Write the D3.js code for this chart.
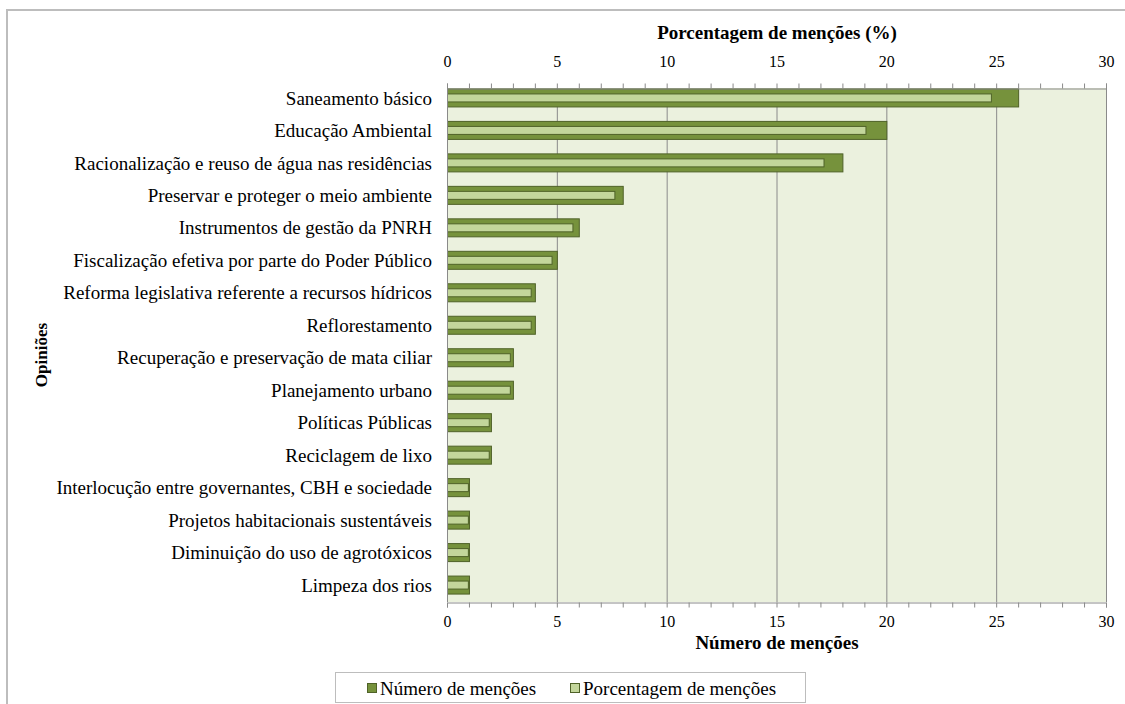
<!DOCTYPE html>
<html><head><meta charset="utf-8">
<script src="https://cdn.jsdelivr.net/npm/d3@7"></script>
</head>
<body style="margin:0">
<svg id="c" width="1125" height="704"></svg>
<script>
const categories = [
  "Saneamento básico",
  "Educação Ambiental",
  "Racionalização e reuso de água nas residências",
  "Preservar e proteger o meio ambiente",
  "Instrumentos de gestão da PNRH",
  "Fiscalização efetiva por parte do Poder Público",
  "Reforma legislativa referente a recursos hídricos",
  "Reflorestamento",
  "Recuperação e preservação de mata ciliar",
  "Planejamento urbano",
  "Políticas Públicas",
  "Reciclagem de lixo",
  "Interlocução entre governantes, CBH e sociedade",
  "Projetos habitacionais sustentáveis",
  "Diminuição do uso de agrotóxicos",
  "Limpeza dos rios"
];
const mentions = [26, 20, 18, 8, 6, 5, 4, 4, 3, 3, 2, 2, 1, 1, 1, 1];
const percentages = [24.76, 19.05, 17.14, 7.62, 5.71, 4.76, 3.81, 3.81, 2.86, 2.86, 1.90, 1.90, 0.95, 0.95, 0.95, 0.95];
const majorTicks = [0, 5, 10, 15, 20, 25, 30];
const minorTicks = d3.range(0, 31, 1);
const seriesNames = ["Número de menções", "Porcentagem de menções"];
const topTitle = "Porcentagem de menções (%)";
const bottomTitle = "Número de menções";
const yTitle = "Opiniões";

const FONT = "'Liberation Serif'";
const svg = d3.select("#c");
const L = 447, R = 1106, T = 88, B = 602;
const darkFill = "#76923c", darkStroke = "#4f6228", lightFill = "#c3d69b", bg = "#ebf1de", gridC = "#8a8a8a";

function serif(sel, size, bold) {
  sel.attr("font-family", "Liberation Serif").attr("font-size", size)
     .style("font-family", FONT);
  if (bold) sel.attr("font-weight", "bold");
  return sel;
}

// outer border
svg.append("line").attr("x1",6).attr("x2",1125).attr("y1",10).attr("y2",10).attr("stroke","#bdbdbd").attr("stroke-width",2);
svg.append("line").attr("x1",7).attr("x2",7).attr("y1",9).attr("y2",704).attr("stroke","#bdbdbd").attr("stroke-width",2);

const x = d3.scaleLinear().domain([0,30]).range([L,R]);
const xTop = d3.scaleLinear().domain([0,30]).range([L,R]);
const y = d3.scaleBand().domain(categories).range([81.7, 601.3]);

svg.append("rect").attr("x",L).attr("y",T).attr("width",R-L).attr("height",B-T).attr("fill",bg);

// gridlines
svg.append("g").selectAll("line").data(majorTicks.filter(d=>d>0)).join("line")
  .attr("x1",d=>x(d)+0.5).attr("x2",d=>x(d)+0.5).attr("y1",T).attr("y2",B)
  .attr("stroke",gridC).attr("stroke-width",1);

// dark bars
const bh = 18, lh = 8;
svg.append("g").selectAll("rect").data(categories).join("rect")
  .attr("x",x(0)+0.5).attr("y",(d)=>y(d)+y.bandwidth()/2-bh/2)
  .attr("width",(d,i)=>x(mentions[i])-x(0)).attr("height",bh)
  .attr("fill",darkFill).attr("stroke",darkStroke).attr("stroke-width",1);
// light bars
svg.append("g").selectAll("rect").data(categories).join("rect")
  .attr("x",xTop(0)+0.5).attr("y",(d)=>y(d)+y.bandwidth()/2-lh/2)
  .attr("width",(d,i)=>xTop(percentages[i])-xTop(0)).attr("height",lh)
  .attr("fill",lightFill).attr("stroke",darkStroke).attr("stroke-width",1);

// left axis line
svg.append("line").attr("x1",L+0.5).attr("x2",L+0.5).attr("y1",T).attr("y2",B).attr("stroke",gridC);

// top axis
const gTop = svg.append("g").attr("transform",`translate(0,${T+0.5})`)
  .call(d3.axisTop(xTop).tickValues(minorTicks).tickSize(5).tickFormat(d=>majorTicks.includes(d)?d:""));
gTop.attr("font-family", "Liberation Serif").attr("font-size", 16);
gTop.select(".domain").attr("stroke",gridC);
gTop.selectAll(".tick line").attr("stroke",gridC);
serif(gTop.selectAll(".tick text"), 16).attr("y",-22).attr("dy","0");

// bottom axis
const gBot = svg.append("g").attr("transform",`translate(0,${B+0.5})`)
  .call(d3.axisBottom(x).tickValues(minorTicks).tickSize(5).tickFormat(d=>majorTicks.includes(d)?d:""));
gBot.attr("font-family", "Liberation Serif").attr("font-size", 16);
gBot.select(".domain").attr("stroke",gridC);
gBot.selectAll(".tick line").attr("stroke",gridC);
serif(gBot.selectAll(".tick text"), 16).attr("y",24).attr("dy","0");

// category labels
serif(svg.selectAll("text.cat").data(categories).join("text").attr("class","cat"), 19)
  .attr("x",432).attr("y",d=>y(d)+y.bandwidth()/2).attr("dy","0.35em")
  .attr("text-anchor","end").text(d=>d);

// titles
serif(svg.append("text"), 19, true).attr("x",777).attr("y",39).attr("text-anchor","middle").text(topTitle);
serif(svg.append("text"), 19, true).attr("x",777).attr("y",649).attr("text-anchor","middle").text(bottomTitle);
serif(svg.append("text"), 17, true).attr("transform","translate(47,355) rotate(-90)").attr("text-anchor","middle").text(yTitle);

// legend
svg.append("rect").attr("x",335.5).attr("y",672.5).attr("width",470).attr("height",30)
  .attr("fill","#fff").attr("stroke","#bdbdbd");
const leg = [{x:367, fill:darkFill, name:seriesNames[0]},{x:570, fill:lightFill, name:seriesNames[1]}];
leg.forEach(l=>{
  svg.append("rect").attr("x",l.x+0.5).attr("y",683.5).attr("width",9).attr("height",9)
    .attr("fill",l.fill).attr("stroke",darkStroke);
  serif(svg.append("text"), 19).attr("x",l.x+13).attr("y",688).attr("dy","0.35em").text(l.name);
});
</script></body></html>
